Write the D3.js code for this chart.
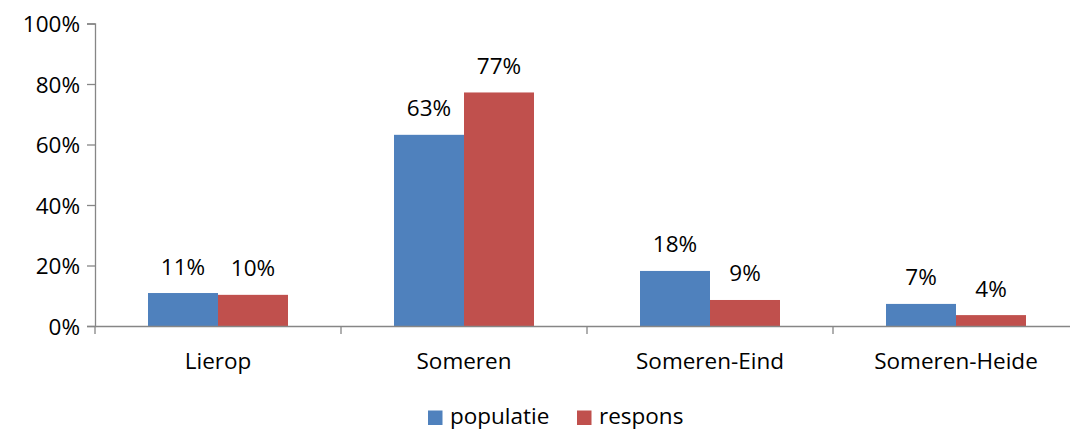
<!DOCTYPE html>
<html><head><meta charset="utf-8">
<script src="https://cdn.jsdelivr.net/npm/d3@7"></script>
<style>body{margin:0;background:#fff}svg{display:block}text{font-family:"Open Sans",Lato,sans-serif;fill:#000}</style>
</head><body><svg id="c" width="1070" height="430"></svg>
<script>
const categories = ["Lierop","Someren","Someren-Eind","Someren-Heide"];
const populatie = [0.109, 0.632, 0.182, 0.073];
const respons = [0.103, 0.772, 0.086, 0.036];
const populatieLabels = ["11%","63%","18%","7%"];
const responsLabels = ["10%","77%","9%","4%"];
const yTicks = [0,0.2,0.4,0.6,0.8,1.0];
const seriesNames = ["populatie","respons"];
const colors = ["#4f81bd","#c0504d"];

const svg = d3.select("#c");
const x0 = d3.scaleBand().domain(categories).range([95,1079]).paddingInner(0).paddingOuter(0);
const y = d3.scaleLinear().domain([0,1]).range([326,23.5]);
const x1 = d3.scaleBand().domain(seriesNames).range([53, x0.bandwidth()-53]);

const fs = "22.5px";
// y axis
const ya = svg.append("g").attr("transform","translate(95,0)")
  .call(d3.axisLeft(y).tickValues(yTicks).tickFormat(d3.format(".0%")).tickSize(8).tickPadding(7));
ya.select(".domain").attr("stroke","#868686").attr("stroke-width",1.3);
ya.selectAll(".tick line").attr("stroke","#868686").attr("stroke-width",1.3);
ya.selectAll("text").style("font-size",fs).attr("dy","0.36em");

const series = [populatie, respons];
const labels = [populatieLabels, responsLabels];
series.forEach((vals,si)=>{
  svg.append("g").selectAll("rect").data(vals).join("rect")
    .attr("x",(d,i)=>x0(categories[i])+x1(seriesNames[si]))
    .attr("width",x1.bandwidth())
    .attr("y",d=>y(d)).attr("height",d=>y(0)-y(d))
    .attr("fill",colors[si]);
  svg.append("g").selectAll("text").data(vals).join("text")
    .attr("x",(d,i)=>x0(categories[i])+x1(seriesNames[si])+x1.bandwidth()/2)
    .attr("y",d=>y(d)-18.5)
    .attr("text-anchor","middle").style("font-size",fs)
    .text((d,i)=>labels[si][i]);
});

// x axis
const xa = svg.append("g").attr("transform","translate(0,326)")
  .call(d3.axisBottom(x0).tickSize(0).tickPadding(0));
xa.select(".domain").attr("stroke","#868686").attr("stroke-width",1.3);
xa.selectAll("text").style("font-size",fs).attr("dy",null).attr("y",42.5);
const bounds = [95].concat(categories.map(c=>x0(c)+x0.bandwidth()));
svg.append("g").selectAll("line").data(bounds).join("line")
  .attr("x1",d=>d).attr("x2",d=>d).attr("y1",326).attr("y2",334)
  .attr("stroke","#868686").attr("stroke-width",1.3);

// legend
const leg = svg.append("g");
const legX = [428, 577];
seriesNames.forEach((n,i)=>{
  leg.append("rect").attr("x",legX[i]).attr("y",410.5).attr("width",14.5).attr("height",14.5).attr("fill",colors[i]);
  leg.append("text").attr("x",legX[i]+22).attr("y",424).style("font-size",fs).text(n);
});
</script></body></html>
